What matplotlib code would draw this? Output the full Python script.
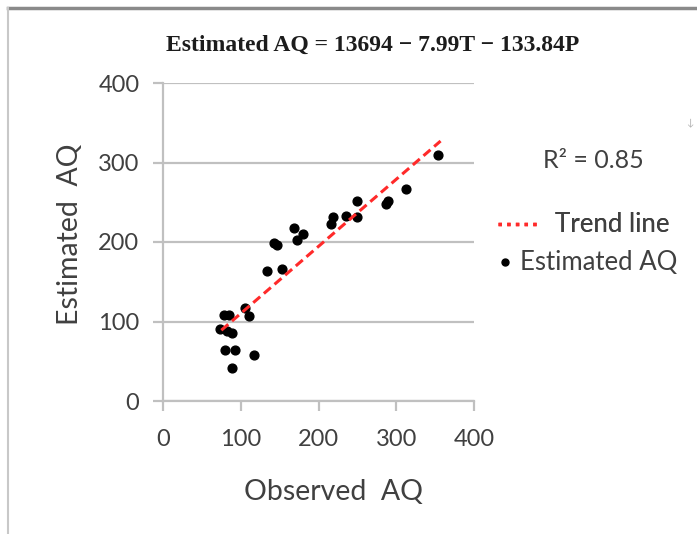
import matplotlib.pyplot as plt
from matplotlib.lines import Line2D
import numpy as np

# observed vs estimated AQ
observed = [354, 313, 289, 287, 250, 250, 235, 219, 216, 168, 180, 172,
            143, 146, 134, 153, 105, 110, 78, 85, 73, 82, 89, 80, 93, 89, 117]
estimated = [309, 267, 252, 248, 252, 231, 233, 231, 223, 218, 210, 203,
             199, 196, 163, 166, 117, 107, 108, 108, 90, 88, 86, 64, 64, 42, 58]
trend_x = [75, 357]
trend_y = [89, 327]
ticks = [0, 100, 200, 300, 400]

grid_c = '#c0c0c0'
txt_c = '#404040'
red = '#ff2a2a'
plt.rcParams['font.family'] = ['Lato', 'DejaVu Sans']

fig = plt.figure(figsize=(6.97, 5.34), dpi=100)
ax = fig.add_axes([163 / 697, 1 - 401 / 534, 311 / 697, 318 / 534])

ax.scatter(observed, estimated, s=40, color='black', zorder=3)
ax.plot(trend_x, trend_y, color=red, lw=2.2, ls=(0, (3, 1.6)), zorder=4)

ax.set_xlim(0, 400)
ax.set_ylim(0, 400)
ax.set_xticks(ticks)
ax.set_yticks(ticks)
ax.yaxis.grid(True, color=grid_c, lw=1.6)
ax.set_axisbelow(True)
for s in ['top', 'right']:
    ax.spines[s].set_visible(False)
for s in ['left', 'bottom']:
    ax.spines[s].set_color(grid_c)
    ax.spines[s].set_linewidth(1.6)
ax.tick_params(colors=grid_c, width=1.6, length=7, labelsize=17,
               labelcolor=txt_c)
ax.tick_params(axis='x', pad=13)
ax.tick_params(axis='y', pad=10)
ax.set_xlabel('Observed  AQ', fontsize=20.5, color=txt_c)
ax.set_ylabel('Estimated  AQ', fontsize=20.5, color=txt_c)
ax.xaxis.set_label_coords(0.547, -0.286)
ax.yaxis.set_label_coords(-0.299, 0.525)
ax.xaxis.label.set_va('center')
ax.yaxis.label.set_va('center')

fig.text(373 / 697, 1 - 45 / 534, 'Estimated AQ = 13694 \u2212 7.99T \u2212 133.84P',
         family='Liberation Serif', weight='bold', fontsize=17,
         ha='center', va='center', color='#1c1c1c')
fig.text(593 / 697, 1 - 160 / 534, 'R\u00b2 = 0.85', fontsize=18,
         ha='center', va='center', color=txt_c)

# Excel-style legend: the two entries are not aligned, so two legends
leg_kw = dict(loc='center left', frameon=False, fontsize=18.5,
              labelcolor=txt_c, borderpad=0, borderaxespad=0)
trend_h = Line2D([], [], color=red, lw=2.5, ls=(0, (1, 1.5)))
leg1 = fig.legend([trend_h], ['Trend line'],
                  bbox_to_anchor=(498 / 697, 1 - 225 / 534),
                  handlelength=1.63, handletextpad=0.58, **leg_kw)
dot_h = Line2D([], [], color='black', marker='o', ls='none', ms=5)
fig.legend([dot_h], ['Estimated AQ'],
           bbox_to_anchor=(500 / 697, 1 - 263 / 534),
           handlelength=0.39, handletextpad=0.39, **leg_kw)
fig.add_artist(leg1)

# page edges of the screenshot
fig.add_artist(Line2D([8 / 697, 1], [1 - 8 / 534] * 2, color='#8a8a8a', lw=2.5))
fig.add_artist(Line2D([8 / 697] * 2, [0, 1 - 8 / 534], color='#c8c8c8', lw=1.5))
fig.text(690 / 697, 1 - 123 / 534, '\u2193', fontsize=7, color='#b0b0b0',
         ha='center', va='center')

fig.savefig('out.png', dpi=100)
